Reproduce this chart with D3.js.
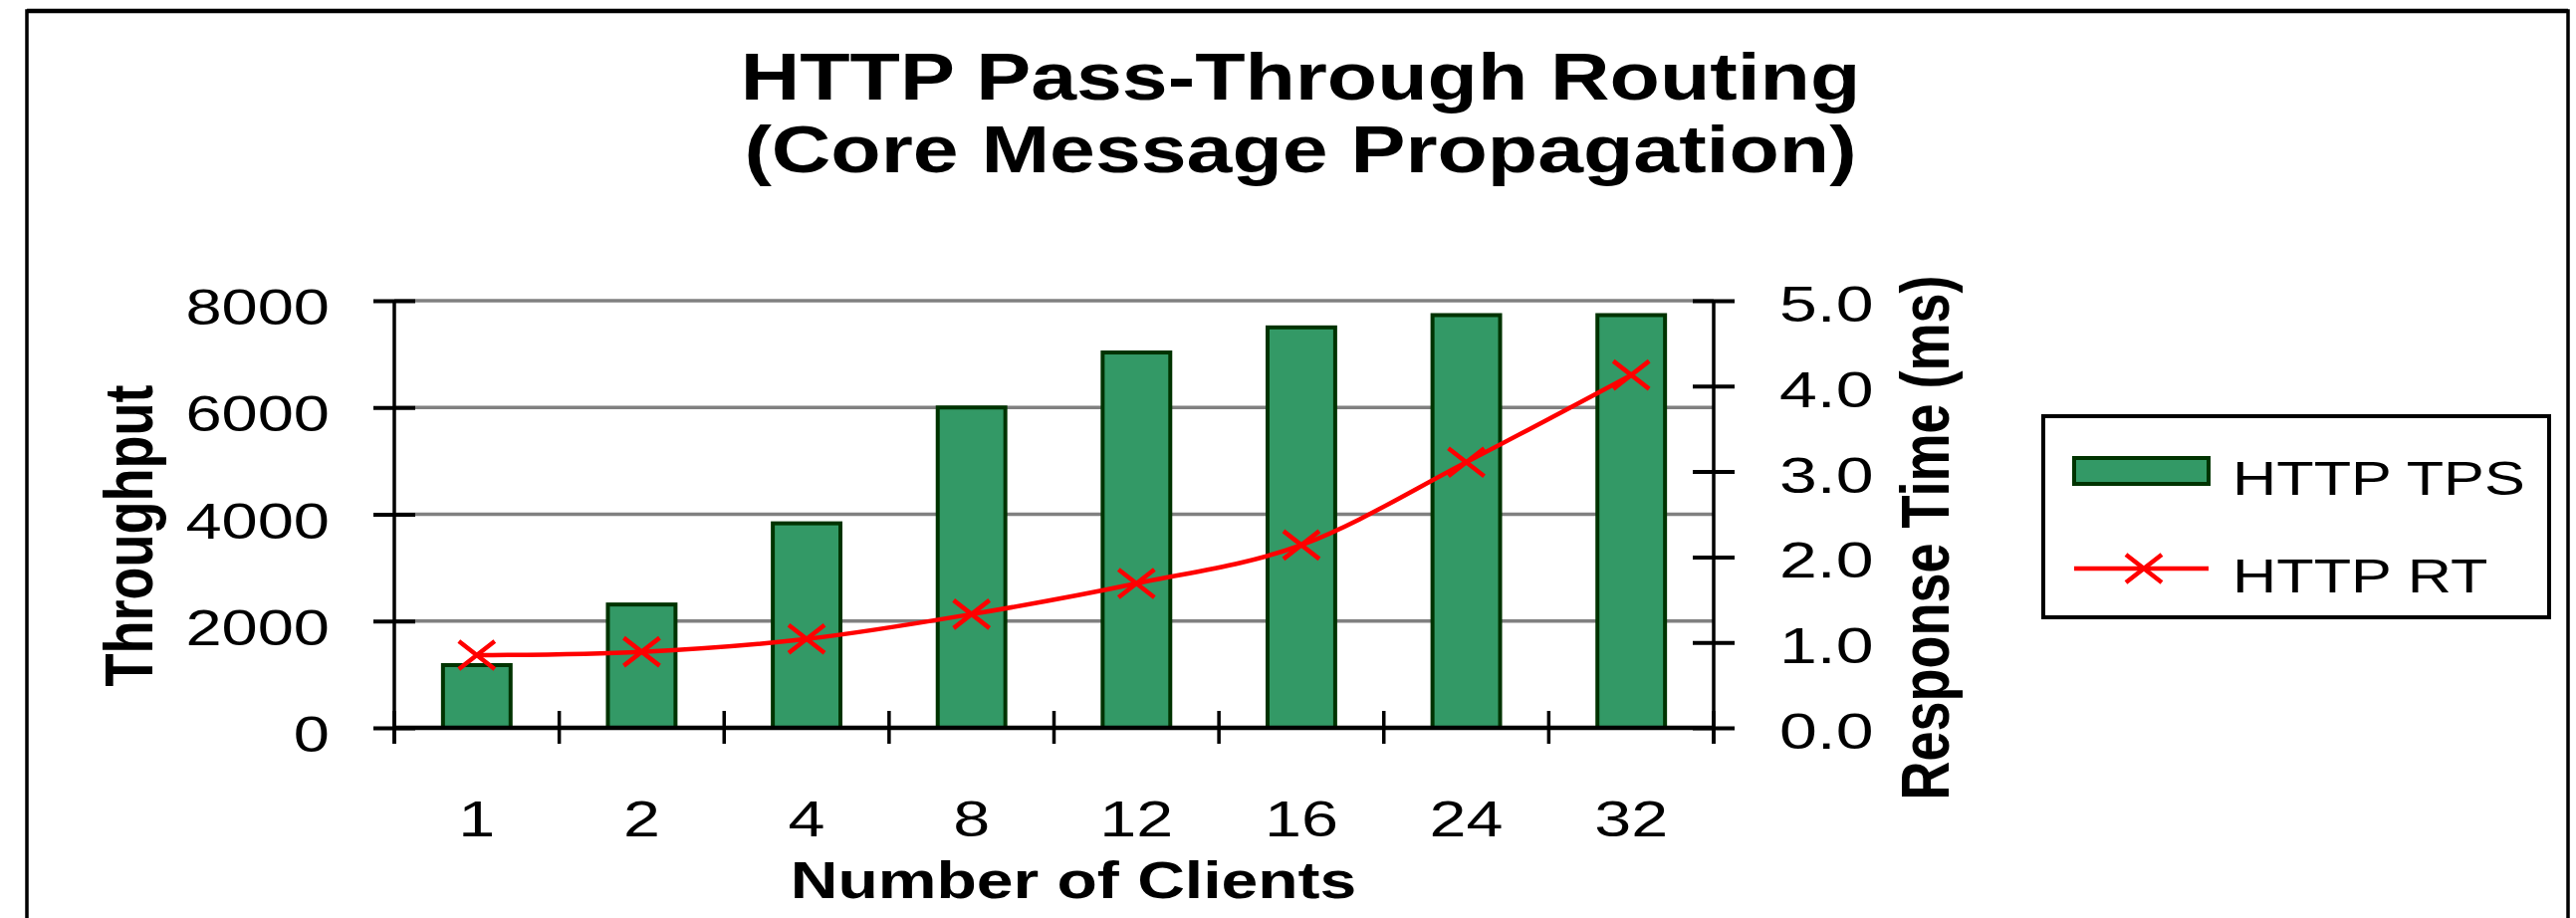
<!DOCTYPE html>
<html>
<head>
<meta charset="utf-8">
<script src="https://cdn.jsdelivr.net/npm/d3@7"></script>
<style>
  html, body { margin: 0; padding: 0; background: #fff; }
  svg { display: block; font-family: "Liberation Sans", Arial, sans-serif; }
</style>
</head>
<body>
<div class="container"></div>
<script>
// data
const clients = ['1', '2', '4', '8', '12', '16', '24', '32']
const tps = [1175, 2310, 3830, 6000, 7030, 7500, 7730, 7730]
const rt = [0.85, 0.89, 1.04, 1.33, 1.69, 2.14, 3.11, 4.13]
const tpsTicks = [0, 2000, 4000, 6000, 8000]
const rtTicks = [0, 1, 2, 3, 4, 5]
const titleLines = ['HTTP Pass-Through Routing', '(Core Message Propagation)']
const legendNames = ['HTTP TPS', 'HTTP RT']

const w = 2587
const h = 922
const plot = { left: 396, right: 1721, top: 302, bottom: 731 }
const green = '#339966'
const darkGreen = '#003300'
const red = '#ff0000'

const svg = d3.select('.container')
              .append('svg')
              .attr('width', w)
              .attr('height', h)

// the picture is stretched sideways, so text is too
function stretched(sel, x, y, sx, rot) {
  if (rot) sel.attr('transform', 'translate(' + x + ',' + y + ') rotate(-90) scale(1,' + sx + ')')
  else sel.attr('transform', 'translate(' + x + ',' + y + ') scale(' + sx + ',1)')
  return sel
}

// outer frame
svg.append('rect')
   .attr('x', 27).attr('y', 11)
   .attr('width', 2579 - 27).attr('height', 1000)
   .attr('fill', 'none').attr('stroke', '#000').attr('stroke-width', 3.5)
svg.append('line')
   .attr('x1', 27).attr('x2', 2579).attr('y1', 11).attr('y2', 11)
   .attr('stroke', '#000').attr('stroke-width', 4.5)

// title
titleLines.forEach((t, i) => {
  stretched(svg.append('text'), 1306, 100 + i * 73, 1.23)
    .attr('text-anchor', 'middle')
    .attr('font-size', 67).attr('font-weight', 'bold')
    .text(t)
})

// scales
const x = d3.scaleBand().domain(clients).range([plot.left, plot.right]).padding(0)
const yL = d3.scaleLinear().domain([0, 8000]).range([plot.bottom, plot.top])
const yR = d3.scaleLinear().domain([0, 5]).range([plot.bottom, plot.top])
const barW = x.bandwidth() * 0.41

// gridlines
svg.append('g')
   .selectAll('line')
   .data(tpsTicks.filter(d => d > 0))
   .join('line')
   .attr('x1', plot.left).attr('x2', plot.right)
   .attr('y1', d => yL(d)).attr('y2', d => yL(d))
   .attr('stroke', '#808080').attr('stroke-width', 3.5)

// bars
svg.append('g')
   .selectAll('rect')
   .data(tps)
   .join('rect')
   .attr('x', (d, i) => x(clients[i]) + (x.bandwidth() - barW) / 2)
   .attr('y', d => yL(d))
   .attr('width', barW)
   .attr('height', d => yL(0) - yL(d))
   .attr('fill', green)
   .attr('stroke', darkGreen).attr('stroke-width', 4)

// left axis (ticks cross the line)
const leftAxis = svg.append('g')
   .attr('transform', 'translate(' + plot.left + ',0)')
   .call(d3.axisLeft(yL).tickValues(tpsTicks).tickSize(21).tickSizeOuter(0).tickFormat(''))
leftAxis.select('.domain').remove()
leftAxis.selectAll('.tick line').attr('x1', 21).attr('stroke', '#000').attr('stroke-width', 4)
svg.append('line')
   .attr('x1', plot.left).attr('x2', plot.left)
   .attr('y1', plot.top).attr('y2', plot.bottom + 16)
   .attr('stroke', '#000').attr('stroke-width', 3.5)

tpsTicks.forEach(d => {
  stretched(svg.append('text'), 331, yL(d) + 24, 1.3)
    .attr('text-anchor', 'end').attr('font-size', 50)
    .text(d)
})

// right axis
const rightAxis = svg.append('g')
   .attr('transform', 'translate(' + plot.right + ',0)')
   .call(d3.axisRight(yR).tickValues(rtTicks).tickSize(21).tickSizeOuter(0).tickFormat(''))
rightAxis.select('.domain').remove()
rightAxis.selectAll('.tick line').attr('x1', -21).attr('stroke', '#000').attr('stroke-width', 4)
svg.append('line')
   .attr('x1', plot.right).attr('x2', plot.right)
   .attr('y1', plot.top).attr('y2', plot.bottom + 16)
   .attr('stroke', '#000').attr('stroke-width', 3.5)

rtTicks.forEach(d => {
  stretched(svg.append('text'), 1787, yR(d) + 21, 1.36)
    .attr('text-anchor', 'start').attr('font-size', 50)
    .text(d3.format('.1f')(d))
})

// bottom axis: baseline + crossing ticks on category boundaries
svg.append('line')
   .attr('x1', plot.left).attr('x2', plot.right)
   .attr('y1', plot.bottom).attr('y2', plot.bottom)
   .attr('stroke', '#000').attr('stroke-width', 4.5)
svg.append('g')
   .selectAll('line')
   .data(clients.map(c => x(c)).concat([plot.right]))
   .join('line')
   .attr('x1', d => d).attr('x2', d => d)
   .attr('y1', plot.bottom - 17).attr('y2', plot.bottom + 16)
   .attr('stroke', '#000').attr('stroke-width', 3.5)

clients.forEach(c => {
  stretched(svg.append('text'), x(c) + x.bandwidth() / 2, 840, 1.33)
    .attr('text-anchor', 'middle').attr('font-size', 50)
    .text(c)
})

// axis titles
stretched(svg.append('text'), 1078, 902, 1.27)
  .attr('text-anchor', 'middle').attr('font-size', 52).attr('font-weight', 'bold')
  .text('Number of Clients')
stretched(svg.append('text'), 153, 538, 1.26, true)
  .attr('text-anchor', 'middle').attr('font-size', 54).attr('font-weight', 'bold')
  .text('Throughput')
stretched(svg.append('text'), 1957, 540, 1.26, true)
  .attr('text-anchor', 'middle').attr('font-size', 54).attr('font-weight', 'bold')
  .text('Response Time (ms)')

// response time line
const cx = i => x(clients[i]) + x.bandwidth() / 2
const line = d3.line()
               .x((d, i) => cx(i))
               .y(d => yR(d))
               .curve(d3.curveCardinal.tension(0))
svg.append('path')
   .datum(rt)
   .attr('d', line)
   .attr('fill', 'none')
   .attr('stroke', red).attr('stroke-width', 4.5)

function cross(g, mx, my) {
  g.append('path')
   .attr('d', 'M' + (mx - 18) + ',' + (my - 14) + 'L' + (mx + 18) + ',' + (my + 14) +
              'M' + (mx - 18) + ',' + (my + 14) + 'L' + (mx + 18) + ',' + (my - 14))
   .attr('stroke', red).attr('stroke-width', 4.5).attr('fill', 'none')
}
const marks = svg.append('g')
rt.forEach((d, i) => cross(marks, cx(i), yR(d)))

// legend
const legend = svg.append('g').attr('class', 'legend')
legend.append('rect')
      .attr('x', 2052).attr('y', 418).attr('width', 2560 - 2052).attr('height', 620 - 418)
      .attr('fill', '#fff').attr('stroke', '#000').attr('stroke-width', 4)
legend.append('rect')
      .attr('x', 2083).attr('y', 460).attr('width', 135).attr('height', 26)
      .attr('fill', green).attr('stroke', darkGreen).attr('stroke-width', 4)
legend.append('line')
      .attr('x1', 2083).attr('x2', 2218).attr('y1', 571).attr('y2', 571)
      .attr('stroke', red).attr('stroke-width', 4.5)
cross(legend, 2153, 571)
legendNames.forEach((n, i) => {
  stretched(legend.append('text'), 2242, 497 + i * 98, 1.25)
    .attr('font-size', 49)
    .text(n)
})
</script>
</body>
</html>
